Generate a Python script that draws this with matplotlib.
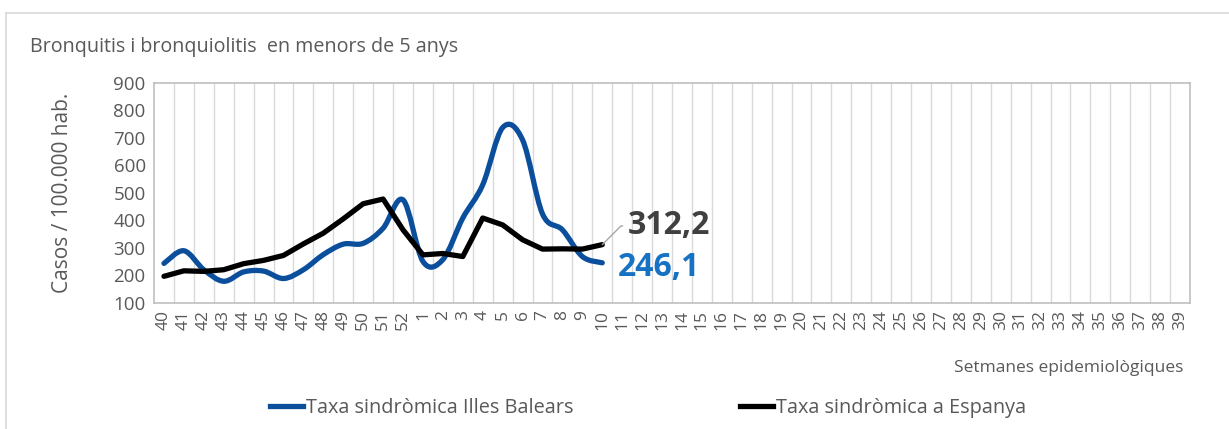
import matplotlib
matplotlib.use("Agg")
import matplotlib.pyplot as plt
import numpy as np
from matplotlib.path import Path
from matplotlib.patches import PathPatch
from matplotlib.lines import Line2D

plt.rcParams['font.family'] = ['Open Sans', 'DejaVu Sans']

weeks = [str(w) for w in range(40, 53)] + [str(w) for w in range(1, 40)]
balears = [244, 290, 221, 179, 213, 216, 189, 221, 276, 314, 317, 372, 475,
           251, 258, 409, 530, 738, 693, 424, 366, 269, 246.1]
espanya = [197, 217, 215, 221, 243, 255, 273, 315, 354, 406, 461, 478, 366,
           275, 280, 269, 409, 384, 330, 296, 297, 296, 312.2]

BLUE = '#0b4f9c'
LBLUE = '#1872c4'
GRAY = '#595959'

fig = plt.figure(figsize=(12.29, 4.29), dpi=100)
W, H = 1229, 429
ax = fig.add_axes([154 / W, 1 - 303 / H, (1190 - 154) / W, (303 - 83) / H])

n = len(weeks)
x = np.arange(n)
ax.set_xlim(-0.5, n - 0.5)
ax.set_ylim(100, 900)

# smoothed blue line (Catmull-Rom -> Bezier, like Excel smoothing)
xb = np.arange(len(balears), dtype=float)
yb = np.array(balears, dtype=float)
verts = [(xb[0], yb[0])]
codes = [Path.MOVETO]
for i in range(len(xb) - 1):
    p0 = np.array([xb[max(i - 1, 0)], yb[max(i - 1, 0)]])
    p1 = np.array([xb[i], yb[i]])
    p2 = np.array([xb[i + 1], yb[i + 1]])
    p3 = np.array([xb[min(i + 2, len(xb) - 1)], yb[min(i + 2, len(xb) - 1)]])
    c1 = p1 + (p2 - p0) / 6
    c2 = p2 - (p3 - p1) / 6
    verts += [tuple(c1), tuple(c2), tuple(p2)]
    codes += [Path.CURVE4] * 3
ax.add_patch(PathPatch(Path(verts, codes), fill=False, edgecolor=BLUE, lw=3.8,
                       capstyle='round', joinstyle='round', zorder=3))
ax.plot(np.arange(len(espanya)), espanya, color='black', lw=3.8,
        solid_capstyle='round', solid_joinstyle='round', zorder=4)

# gridlines at category boundaries
for b in np.arange(0.5, n - 0.5, 1):
    ax.axvline(b, color='#d9d9d9', lw=1, zorder=1)
for s in ax.spines.values():
    s.set_color('#bfbfbf')
    s.set_linewidth(1.2)

ax.set_yticks(range(100, 1000, 100))
ax.set_xticks(x)
ax.set_xticklabels(weeks, rotation=90, fontsize=12.5, color=GRAY)
ax.tick_params(axis='y', length=0, labelsize=13.5, labelcolor=GRAY, pad=6)
ax.tick_params(axis='x', length=0, pad=5)
ax.set_ylabel('Casos / 100.000 hab.', fontsize=15, color=GRAY, labelpad=29)

# data labels
last = len(espanya) - 1
ax.annotate(f"{espanya[-1]:.1f}".replace('.', ','), xy=(last, espanya[-1]),
            xytext=(last + 1.3, 380), textcoords='data', fontsize=23,
            fontweight='bold', color='#404040', va='center', ha='left',
            arrowprops=dict(arrowstyle='-', color='#a6a6a6', lw=1,
                            connectionstyle='angle,angleA=0,angleB=45,rad=0',
                            shrinkA=2, shrinkB=0), zorder=5)
ax.text(last + 0.8, 230, f"{balears[-1]:.1f}".replace('.', ','), fontsize=23,
        fontweight='bold', color=LBLUE, va='center', ha='left', zorder=5)

# texts
fig.text(30 / W, 1 - 47 / H, 'Bronquitis i bronquiolitis  en menors de 5 anys',
         fontsize=14.2, color=GRAY, va='center', ha='left')
fig.text(1183 / W, 1 - 368 / H, 'Setmanes epidemiològiques', fontsize=12.5,
         color=GRAY, va='center', ha='right')

handles = [Line2D([], [], color=BLUE, lw=3.8), Line2D([], [], color='black', lw=3.8)]
fig.legend(handles, ['Taxa sindròmica Illes Balears', 'Taxa sindròmica a Espanya'],
           loc='center', bbox_to_anchor=(648 / W, 1 - 408 / H), ncol=2,
           frameon=False, fontsize=14.3, labelcolor=GRAY, handlelength=1.65,
           handletextpad=0.15, columnspacing=8.4, borderpad=0, borderaxespad=0)

# outer border
fig.add_artist(Line2D([6 / W, 1.0], [1 - 13 / H] * 2, color='#d9d9d9', lw=1.2))
fig.add_artist(Line2D([6 / W, 6 / W], [1 - 13 / H, 0], color='#d9d9d9', lw=1.2))

fig.savefig('out.png', dpi=100)
